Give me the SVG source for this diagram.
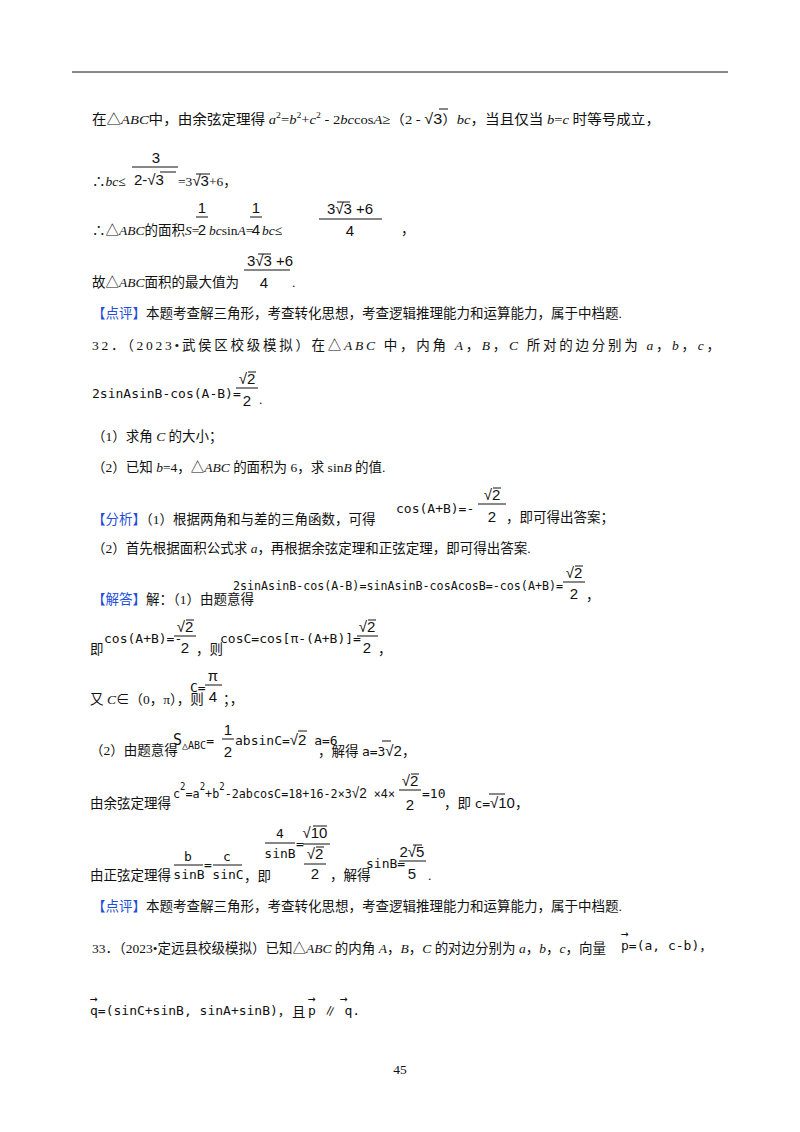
<svg xmlns="http://www.w3.org/2000/svg" width="800" height="1132" viewBox="0 0 800 1132">
<style>
text{font-family:"Liberation Serif","Noto Sans CJK SC",serif;font-size:13.5px;fill:#111}
.m{font-family:"DejaVu Sans Mono","Liberation Mono","Noto Sans CJK SC",monospace;font-size:13px}
.s{font-family:"Liberation Sans","Noto Sans CJK SC",sans-serif;font-size:15px}
.b{fill:#1f4fd8}
.c{text-anchor:middle}
line{stroke:#111;stroke-width:1}
</style>
<rect width="800" height="1132" fill="#fff"/>
<line x1="72" y1="72" x2="728" y2="72" stroke-width="1.5"/>
<text x="92" y="124" textLength="568" lengthAdjust="spacingAndGlyphs">在△<tspan font-style="italic">ABC</tspan>中，由余弦定理得 <tspan font-style="italic">a</tspan><tspan font-size="9" dy="-6">2</tspan><tspan dy="6">=</tspan><tspan font-style="italic">b</tspan><tspan font-size="9" dy="-6">2</tspan><tspan dy="6">+</tspan><tspan font-style="italic">c</tspan><tspan font-size="9" dy="-6">2</tspan><tspan dy="6"> - 2</tspan><tspan font-style="italic">bc</tspan>cos<tspan font-style="italic">A</tspan>≥（2 - <tspan class="s" font-size="18">√3</tspan>）<tspan font-style="italic">bc</tspan>，当且仅当 <tspan font-style="italic">b</tspan>=<tspan font-style="italic">c</tspan> 时等号成立，</text>
<line x1="439" y1="109" x2="448" y2="109"/>
<text x="92" y="186">∴<tspan font-style="italic">bc</tspan>≤</text>
<text class="s c" x="156" y="163">3</text><line x1="132" y1="167" x2="178" y2="167"/>
<text class="s" x="134" y="185">2-√3</text><line x1="160" y1="172" x2="176" y2="172"/>
<text x="178" y="186">=3<tspan class="s">√3</tspan>+6，</text><line x1="196" y1="174" x2="210" y2="174"/>
<text x="92" y="235">∴△<tspan font-style="italic">ABC</tspan>的面积<tspan font-style="italic">S</tspan>=</text>
<text class="s c" x="202" y="213">1</text><line x1="196" y1="217" x2="208" y2="217"/><text class="s c" x="202" y="235">2</text>
<text x="209" y="235"><tspan font-style="italic">bc</tspan>sin<tspan font-style="italic">A</tspan>=</text>
<text class="s c" x="256" y="213">1</text><line x1="250" y1="217" x2="262" y2="217"/><text class="s c" x="256" y="235">4</text>
<text x="262" y="235"><tspan font-style="italic">bc</tspan>≤</text>
<text class="s c" x="350" y="214">3√3 +6</text><line x1="319" y1="219" x2="382" y2="219"/><line x1="337" y1="202" x2="350" y2="202"/><text class="s c" x="350" y="236">4</text>
<text x="401" y="234">，</text>
<text x="92" y="287">故△<tspan font-style="italic">ABC</tspan>面积的最大值为</text>
<text class="s c" x="270" y="266">3√3 +6</text><line x1="244" y1="270" x2="290" y2="270"/><line x1="258" y1="254" x2="271" y2="254"/><text class="s c" x="264" y="288">4</text>
<text x="292" y="287">.</text>
<text x="92" y="318"><tspan class="b">【点评】</tspan>本题考查解三角形，考查转化思想，考查逻辑推理能力和运算能力，属于中档题.</text>
<text x="92" y="350" textLength="628" lengthAdjust="spacing">32．（2023•武侯区校级模拟）在△<tspan font-style="italic">ABC</tspan> 中，内角 <tspan font-style="italic">A</tspan>，<tspan font-style="italic">B</tspan>，<tspan font-style="italic">C</tspan> 所对的边分别为 <tspan font-style="italic">a</tspan>，<tspan font-style="italic">b</tspan>，<tspan font-style="italic">c</tspan>，</text>
<text class="m" x="92" y="398">2sinAsinB-cos(A-B)=</text>
<text class="s c" x="247" y="384">√2</text><line x1="248" y1="372" x2="256" y2="372"/><line x1="236" y1="388" x2="258" y2="388"/><text class="s c" x="247" y="406">2</text>
<text x="259" y="404">.</text>
<text x="92" y="441">（1）求角 <tspan font-style="italic">C</tspan> 的大小；</text>
<text x="92" y="472">（2）已知 <tspan font-style="italic">b</tspan>=4，△<tspan font-style="italic">ABC</tspan> 的面积为 6，求 sin<tspan font-style="italic">B</tspan> 的值.</text>
<text x="92" y="524"><tspan class="b">【分析】</tspan>（1）根据两角和与差的三角函数，可得</text>
<text class="m" x="396" y="513">cos(A+B)=-</text>
<text class="s c" x="492" y="500">√2</text><line x1="493" y1="488" x2="501" y2="488"/><line x1="478" y1="504" x2="506" y2="504"/><text class="s c" x="492" y="522">2</text>
<text x="506" y="522">，即可得出答案；</text>
<text x="92" y="553">（2）首先根据面积公式求 <tspan font-style="italic">a</tspan>，再根据余弦定理和正弦定理，即可得出答案.</text>
<text x="92" y="604"><tspan class="b">【解答】</tspan>解：（1）由题意得</text>
<text class="m" x="233" y="590" textLength="330" lengthAdjust="spacingAndGlyphs">2sinAsinB-cos(A-B)=sinAsinB-cosAcosB=-cos(A+B)=</text>
<text class="s c" x="574" y="578">√2</text><line x1="575" y1="566" x2="583" y2="566"/><line x1="563" y1="582" x2="585" y2="582"/><text class="s c" x="574" y="599">2</text>
<text x="586" y="600">，</text>
<text x="90" y="654">即</text>
<text class="m" x="104" y="643">cos(A+B)=-</text>
<text class="s c" x="185" y="632">√2</text><line x1="186" y1="620" x2="194" y2="620"/><line x1="174" y1="636" x2="196" y2="636"/><text class="s c" x="185" y="653">2</text>
<text x="196" y="654">，则</text>
<text class="m" x="220" y="643">cosC=cos[π-(A+B)]=</text>
<text class="s c" x="367" y="632">√2</text><line x1="368" y1="620" x2="376" y2="620"/><line x1="357" y1="636" x2="378" y2="636"/><text class="s c" x="367" y="653">2</text>
<text x="378" y="654">，</text>
<text x="90" y="704">又 <tspan font-style="italic">C</tspan>∈（0，π），则</text>
<text class="m" x="190" y="692">C=</text>
<text class="s c" x="213" y="681">π</text><line x1="205" y1="685" x2="222" y2="685"/><text class="s c" x="213" y="702">4</text>
<text x="223" y="704">；，</text>
<text x="90" y="755">（2）由题意得</text>
<text class="m" x="173" y="745"><tspan font-size="15">S</tspan><tspan font-size="10" dy="4">△ABC</tspan><tspan dy="-4">=</tspan></text>
<text class="s c" x="228" y="735">1</text><line x1="222" y1="739" x2="234" y2="739"/><text class="s c" x="228" y="757">2</text>
<text class="m" x="235" y="745">absinC=<tspan class="s">√2</tspan> a=6</text><line x1="298" y1="731" x2="307" y2="731"/>
<text x="318" y="756">，解得 <tspan class="m">a=3<tspan class="s">√2</tspan></tspan>，</text><line x1="382" y1="741" x2="391" y2="741"/>
<text x="90" y="808">由余弦定理得</text>
<text class="m" x="173" y="798" textLength="222" lengthAdjust="spacingAndGlyphs">c<tspan font-size="10" dy="-8">2</tspan><tspan dy="8">=a</tspan><tspan font-size="10" dy="-8">2</tspan><tspan dy="8">+b</tspan><tspan font-size="10" dy="-8">2</tspan><tspan dy="8">-2abcosC=18+16-2×3</tspan><tspan class="s">√2</tspan> ×4×</text>
<text class="s c" x="410" y="786">√2</text><line x1="411" y1="774" x2="419" y2="774"/><line x1="399" y1="790" x2="421" y2="790"/><text class="s c" x="410" y="810">2</text>
<text class="m" x="422" y="798">=10</text>
<text x="444" y="808">，即 <tspan class="m">c=<tspan class="s">√10</tspan></tspan>，</text><line x1="489" y1="794" x2="505" y2="794"/>
<text x="90" y="880">由正弦定理得</text>
<text class="m c" x="188" y="861">b</text><line x1="174" y1="865" x2="203" y2="865"/><text class="m c" x="189" y="879">sinB</text>
<text class="m" x="204" y="869">=</text>
<text class="m c" x="227" y="861">c</text><line x1="213" y1="865" x2="242" y2="865"/><text class="m c" x="228" y="879">sinC</text>
<text x="244" y="881">，即</text>
<text class="m c" x="280" y="838">4</text><line x1="265" y1="843" x2="295" y2="843"/><text class="m c" x="280" y="858">sinB</text>
<text class="m" x="296" y="848">=</text>
<text class="s c" x="315" y="838">√10</text><line x1="313" y1="826" x2="327" y2="826"/><line x1="303" y1="844" x2="330" y2="844"/>
<text class="s c" x="315" y="859">√2</text><line x1="316" y1="847" x2="324" y2="847"/><line x1="304" y1="864" x2="326" y2="864"/>
<text class="s c" x="315" y="879">2</text>
<text x="330" y="880">，解得</text>
<text class="m" x="366" y="868">sinB=</text>
<text class="s c" x="412" y="857">2√5</text><line x1="413" y1="845" x2="422" y2="845"/><line x1="399" y1="861" x2="426" y2="861"/><text class="s c" x="412" y="879">5</text>
<text x="428" y="880">.</text>
<text x="92" y="911"><tspan class="b">【点评】</tspan>本题考查解三角形，考查转化思想，考查逻辑推理能力和运算能力，属于中档题.</text>
<text x="92" y="953">33．（2023•定远县校级模拟）已知△<tspan font-style="italic">ABC</tspan> 的内角 <tspan font-style="italic">A</tspan>，<tspan font-style="italic">B</tspan>，<tspan font-style="italic">C</tspan> 的对边分别为 <tspan font-style="italic">a</tspan>，<tspan font-style="italic">b</tspan>，<tspan font-style="italic">c</tspan>，向量</text>
<text class="m" x="621" y="950">p=(a, c-b)，</text>
<text class="m" x="621" y="938" font-size="10">→</text>
<text class="m" x="90" y="1015">q=(sinC+sinB, sinA+sinB)，</text>
<text x="292" y="1017">且</text>
<text class="m" x="308" y="1015">p ∥ q.</text>
<text class="m" x="90" y="1003" font-size="10">→</text>
<text class="m" x="308" y="1003" font-size="10">→</text>
<text class="m" x="340" y="1003" font-size="10">→</text>
<text x="400" y="1074" class="c" font-family="Liberation Sans,sans-serif" font-size="11">45</text>
</svg>
